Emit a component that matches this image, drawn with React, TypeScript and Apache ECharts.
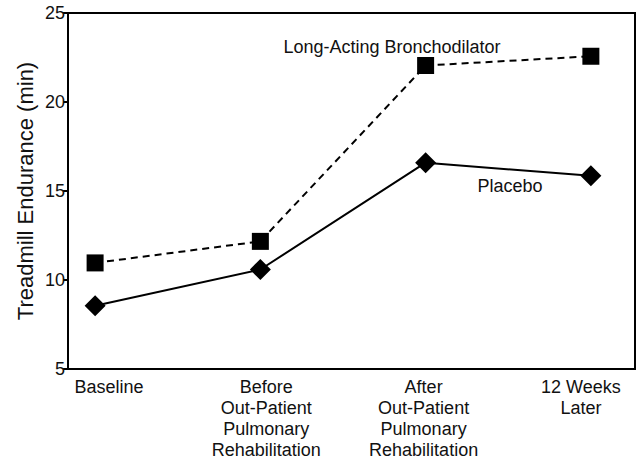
import React, { useEffect, useRef } from "react";
import * as echarts from "echarts";

const categories = [
  "Baseline",
  "Before\nOut-Patient\nPulmonary\nRehabilitation",
  "After\nOut-Patient\nPulmonary\nRehabilitation",
  "12 Weeks\nLater",
];
const bronchodilator = [10.96, 12.17, 22.05, 22.57];
const placebo = [8.55, 10.59, 16.59, 15.85];
const yTicks = { min: 5, max: 25, interval: 5 };
const categoryIndex = categories.map((_, i) => i);

const FONT = '"Liberation Sans", Arial, sans-serif';

export default function App() {
  const ref = useRef<HTMLDivElement>(null);
  useEffect(() => {
    if (!ref.current) return;
    const chart = echarts.init(ref.current, undefined, { renderer: "svg" });
    chart.setOption({
      animation: false,
      backgroundColor: "#ffffff",
      grid: {
        left: 68,
        right: 2,
        top: 13,
        bottom: 88,
        show: true,
        borderColor: "#000",
        borderWidth: 2,
        backgroundColor: "transparent",
      },
      xAxis: [
        {
          type: "value",
          position: "bottom",
          min: -0.164,
          max: 3.267,
          axisLine: { show: true, onZero: false, lineStyle: { color: "#000", width: 2 } },
          axisTick: { show: false },
          splitLine: { show: false },
          axisLabel: { show: false },
        },
        {
          type: "value",
          position: "bottom",
          min: -0.261,
          max: 3.344,
          axisLine: { show: false, onZero: false },
          axisTick: { show: false },
          splitLine: { show: false },
          axisLabel: {
            customValues: categoryIndex,
            formatter: (v: number) => categories[Math.round(v)] ?? "",
            color: "#111",
            fontFamily: FONT,
            fontSize: 18,
            lineHeight: 21,
            margin: 7,
            align: "center",
          },
        },
      ],
      yAxis: {
        type: "value",
        min: yTicks.min,
        max: yTicks.max,
        interval: yTicks.interval,
        axisLine: { show: true, onZero: false, lineStyle: { color: "#000", width: 2 } },
        axisTick: { show: true, length: 5, lineStyle: { color: "#000", width: 2 } },
        splitLine: { show: false },
        axisLabel: {
          color: "#111",
          fontFamily: FONT,
          fontSize: 18,
          margin: 3,
        },
      },
      graphic: [
        {
          type: "text",
          x: 25,
          y: 191,
          rotation: Math.PI / 2,
          style: {
            text: "Treadmill Endurance (min)",
            fontFamily: FONT,
            fontSize: 22,
            fill: "#111",
            textAlign: "center",
            textVerticalAlign: "middle",
          },
        },
        {
          type: "text",
          x: 392,
          y: 47,
          style: {
            text: "Long-Acting Bronchodilator",
            fontFamily: FONT,
            fontSize: 18,
            fill: "#111",
            textAlign: "center",
            textVerticalAlign: "middle",
          },
        },
        {
          type: "text",
          x: 510,
          y: 186,
          style: {
            text: "Placebo",
            fontFamily: FONT,
            fontSize: 18,
            fill: "#111",
            textAlign: "center",
            textVerticalAlign: "middle",
          },
        },
      ],
      series: [
        {
          name: "Long-Acting Bronchodilator",
          type: "line",
          xAxisIndex: 0,
          data: bronchodilator.map((v, i) => [i, v]),
          symbol: "rect",
          symbolSize: 17,
          lineStyle: { color: "#000", width: 2, type: [7, 5] },
          itemStyle: { color: "#000" },
          z: 3,
        },
        {
          name: "Placebo",
          type: "line",
          xAxisIndex: 0,
          data: placebo.map((v, i) => [i, v]),
          symbol: "diamond",
          symbolSize: 21,
          lineStyle: { color: "#000", width: 2 },
          itemStyle: { color: "#000" },
          z: 3,
        },
      ],
    });
    return () => chart.dispose();
  }, []);
  return (
    <div
      ref={ref}
      style={{ position: "fixed", left: 0, top: 0, width: 637, height: 460 }}
    />
  );
}
